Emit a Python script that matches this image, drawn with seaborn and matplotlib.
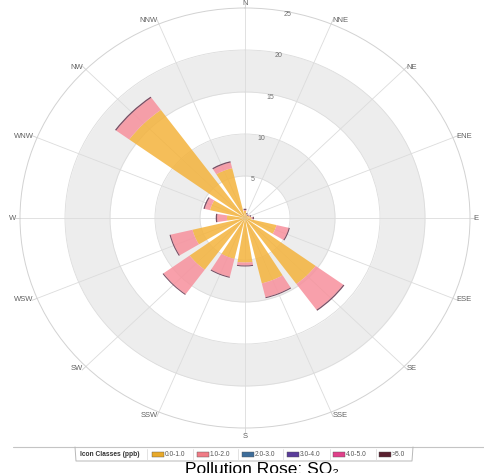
import numpy as np
import matplotlib
matplotlib.use("Agg")
import matplotlib.pyplot as plt
import seaborn as sns

# Wind directions, clockwise from north
directions = ["N", "NNE", "NE", "ENE", "E", "ESE", "SE", "SSE",
              "S", "SSW", "SW", "WSW", "W", "WNW", "NW", "NNW"]

# Concentration classes (ppb) and their frequencies (%) per direction
classes = ["0.0-1.0", "1.0-2.0", "2.0-3.0", "3.0-4.0", "4.0-5.0", ">5.0"]
freq_0_1 = [0.85, 0.45, 0.35, 0.5, 0.7, 3.6, 9.7, 8.0, 5.3, 5.0, 7.6, 6.0, 2.0, 4.0, 15.9, 6.1]
freq_1_2 = [0.1, 0.05, 0.05, 0.1, 0.15, 1.4, 3.8, 1.7, 0.35, 2.2, 3.6, 2.5, 1.1, 0.6, 1.8, 0.7]
freq_2_3 = [0.0, 0.0, 0.0, 0.0, 0.0, 0.0, 0.0, 0.0, 0.0, 0.0, 0.0, 0.0, 0.0, 0.0, 0.0, 0.0]
freq_3_4 = [0.0, 0.0, 0.0, 0.0, 0.0, 0.0, 0.0, 0.0, 0.0, 0.0, 0.0, 0.0, 0.0, 0.0, 0.0, 0.0]
freq_4_5 = [0.0, 0.0, 0.0, 0.0, 0.0, 0.0, 0.0, 0.0, 0.0, 0.0, 0.0, 0.0, 0.0, 0.0, 0.0, 0.0]
freq_gt5 = [0.15, 0.1, 0.1, 0.1, 0.15, 0.12, 0.15, 0.12, 0.12, 0.12, 0.12, 0.12, 0.15, 0.15, 0.15, 0.15]

radial_ticks = [5, 10, 15, 20, 25]

class_colors = ["#F4B33C", "#F7909C", "#41709C", "#5C3F9A", "#E2428B", "#62304A"]
legend_colors = ["#E8A92A", "#F07C86", "#3E6D9A", "#5A3D9A", "#E0408A", "#5A2030"]

sns.set_theme(style="white")
plt.rcParams["font.family"] = ["Liberation Sans", "DejaVu Sans"]

W, H = 484, 473
fig = plt.figure(figsize=(W / 100, H / 100), dpi=100)
fig.patch.set_facecolor("white")

# Rose centre and radii in pixels (slightly wider than tall)
cx, cy, rx, ry = 245, 218, 225, 210
ax = fig.add_axes([(cx - rx) / W, (H - (cy + ry)) / H, 2 * rx / W, 2 * ry / H],
                  projection="polar")
ax.set_aspect("auto")
ax.set_theta_zero_location("N")
ax.set_theta_direction(-1)
rmax = radial_ticks[-1]
ax.set_ylim(0, rmax)
ax.set_facecolor("white")

theta = np.deg2rad(np.arange(len(directions)) * 360 / len(directions))

# Alternating plot bands
ring = np.linspace(0, 2 * np.pi, 500)
for lo, hi in [(5, 10), (15, 20)]:
    ax.fill_between(ring, lo, hi, color="#ededed", lw=0, zorder=0.1)

ax.set_xticks(theta)
ax.set_xticklabels([])
ax.set_yticks(radial_ticks[:-1])
ax.set_yticklabels([])
ax.set_axisbelow(True)
ax.grid(True, color="#dcdcdc", lw=0.6)
ax.spines["polar"].set_color("#d2d2d2")
ax.spines["polar"].set_linewidth(0.7)

# Small tick marks beyond the outer ring
for t in theta:
    ax.plot([t, t], [rmax, rmax + 0.6], color="#cfcfcf", lw=0.6, clip_on=False)

# Stacked bars
series = [freq_0_1, freq_1_2, freq_2_3, freq_3_4, freq_4_5, freq_gt5]
bottom = np.zeros(len(directions))
width = 2 * np.pi / len(directions) * 0.8
for vals, col in zip(series, class_colors):
    vals = np.asarray(vals)
    ax.bar(theta, vals, width=width, bottom=bottom, color=col, alpha=0.85,
           edgecolor="none", zorder=2)
    bottom += vals

# Direction labels
for t, d in zip(theta, directions):
    deg = np.rad2deg(t)
    if d == "N":
        ax.text(t, rmax + 0.55, d, ha="center", va="center", fontsize=5.5, color="#606060")
    elif d == "S":
        ax.text(t, rmax + 0.6, d, ha="center", va="top", fontsize=5.5, color="#606060")
    elif deg < 180:
        ax.text(t, rmax + 0.4, d, ha="left", va="center", fontsize=5.5, color="#606060")
    else:
        ax.text(t, rmax + 0.4, d, ha="right", va="center", fontsize=5.5, color="#606060")

# Radial labels
for v in radial_ticks:
    ax.text(np.deg2rad(11), v - 0.35, str(v), ha="center", va="center",
            fontsize=5, color="#707070", zorder=3)

# Legend and title drawn in pixel space
ov = fig.add_axes([0, 0, 1, 1])
ov.set_xlim(0, W)
ov.set_ylim(H, 0)
ov.axis("off")

ov.plot([13, W], [447, 447], color="#c4c4c4", lw=0.8)
ov.plot([75, 76, 412, 413], [447, 461, 461, 447], color="#b8b8b8", lw=0.7)
ov.text(80, 454.5, "Icon Classes (ppb)", fontsize=4.8, fontweight="bold",
        color="#333333", va="center", ha="left")
sep_x = [147, 193, 238, 283, 330, 376]
sw_x = [152, 197, 242, 287, 333, 379]
for sx, wx, lab, col in zip(sep_x, sw_x, classes, legend_colors):
    ov.plot([sx, sx], [449, 460], color="#dedede", lw=0.6)
    ov.add_patch(plt.Rectangle((wx, 452.3), 12, 4.6, facecolor=col,
                               edgecolor="#555555", lw=0.3))
    ov.text(wx + 13, 454.5, lab, fontsize=4.8, color="#555555", va="center", ha="left")

ov.text(262, 461.5, "Pollution Rose: SO\u2082", ha="center", va="top", fontsize=12.5,
        color="black")

fig.savefig("out.png", dpi=100)
